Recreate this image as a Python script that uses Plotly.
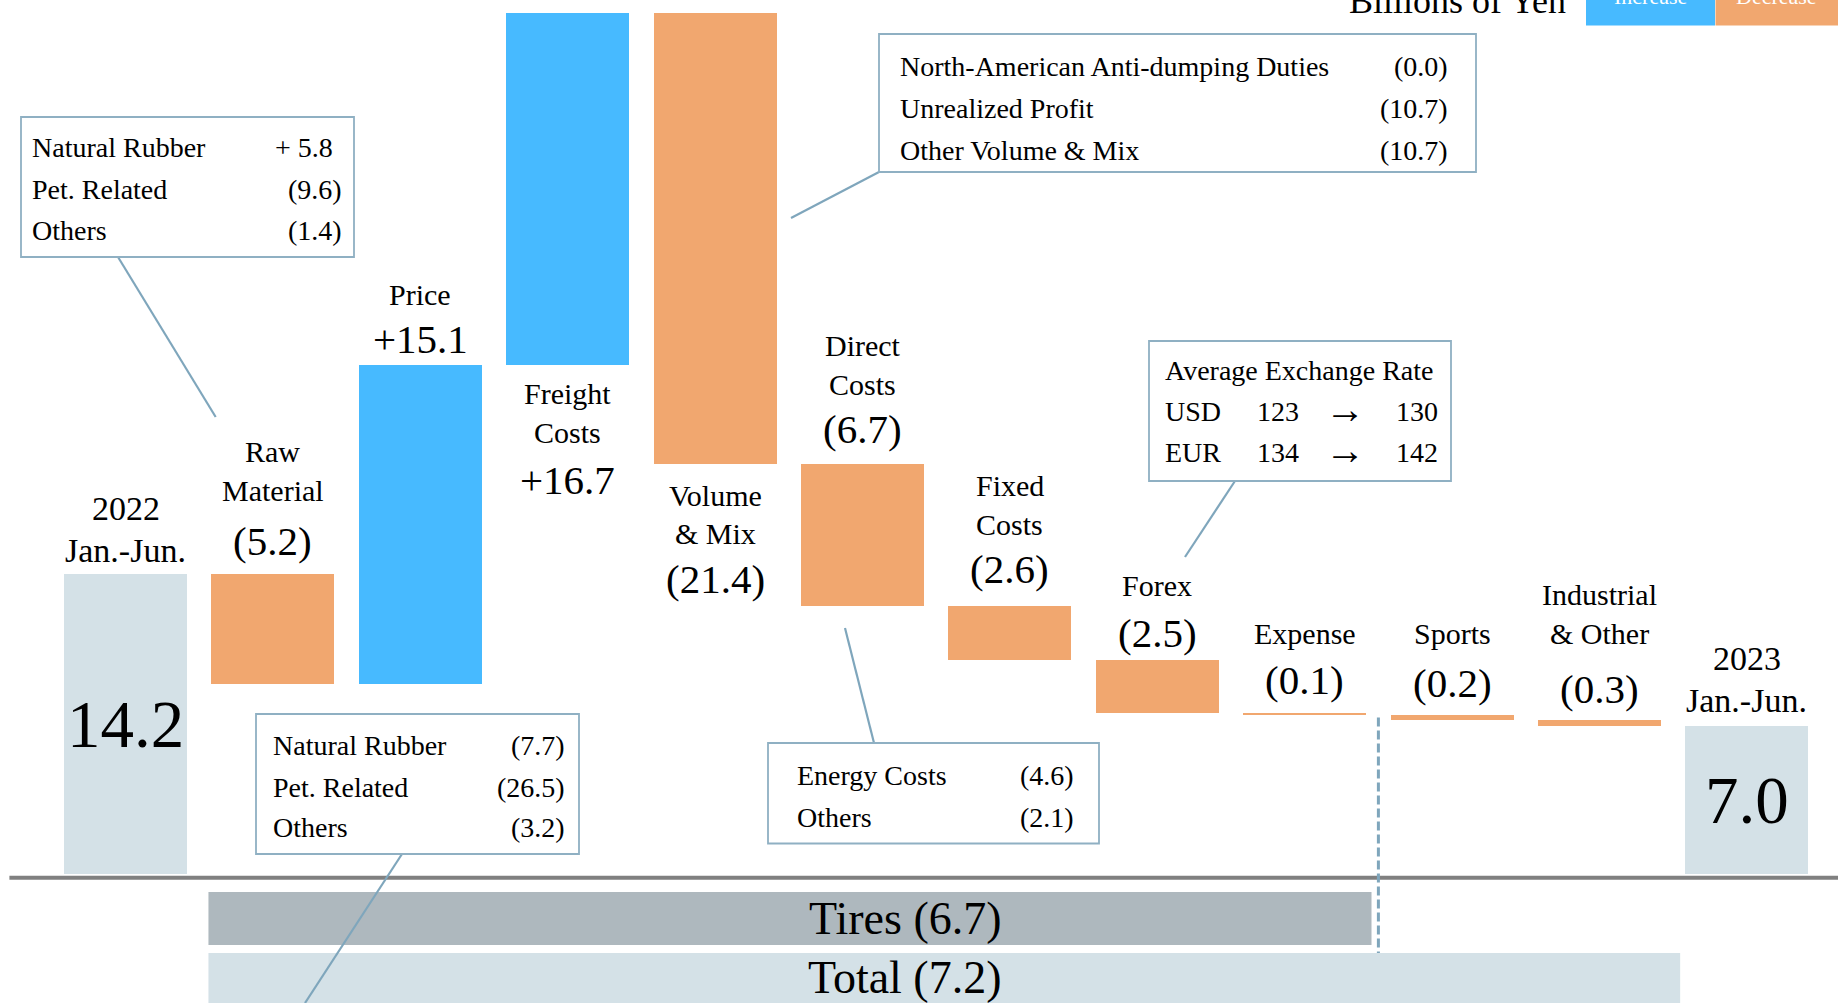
import plotly.graph_objects as go

# ---- data (billions of yen) -------------------------------------------------
categories = ["2022 Jan.-Jun.", "Raw Material", "Price", "Freight Costs",
              "Volume & Mix", "Direct Costs", "Fixed Costs", "Forex",
              "Expense", "Sports", "Industrial & Other", "2023 Jan.-Jun."]
label_lines = [["2022", "Jan.-Jun."], ["Raw", "Material"], ["Price"],
               ["Freight", "Costs"], ["Volume", "& Mix"], ["Direct", "Costs"],
               ["Fixed", "Costs"], ["Forex"], ["Expense"], ["Sports"],
               ["Industrial", "& Other"], ["2023", "Jan.-Jun."]]
start_value = 14.2
changes = [-5.2, 15.1, 16.7, -21.4, -6.7, -2.6, -2.5, -0.1, -0.2, -0.3]
end_value = 7.0

# segment brackets under the axis: (name, first change index, last change index)
segments = [("Tires", 0, 7), ("Total", 0, 9)]

raw_material_items = ["Natural Rubber", "Pet. Related", "Others"]
raw_material_values = [5.8, -9.6, -1.4]
price_items = ["Natural Rubber", "Pet. Related", "Others"]
price_values = [-7.7, -26.5, -3.2]
volume_items = ["North-American Anti-dumping Duties", "Unrealized Profit",
                "Other Volume & Mix"]
volume_values = [-0.0, -10.7, -10.7]
direct_items = ["Energy Costs", "Others"]
direct_values = [-4.6, -2.1]
fx_currencies = ["USD", "EUR"]
fx_prev = [123, 134]
fx_curr = [130, 142]

# ---- styling ----------------------------------------------------------------
W, H = 1838, 1003
SERIF = "Liberation Serif, Times New Roman, serif"
C_UP = "#47BAFF"
C_DOWN = "#F1A76F"
C_TOTAL = "#D4E1E7"
C_TIRES = "#AEB8BE"
C_CALLOUT = "#7FA6BC"
C_BOX = "#8FB0C3"

X0, DX = 125.5, 147.4          # pixel centre of first column, column pitch
Y0, DY = 873.6, 21.1           # pixel of zero, pixels per billion yen
BAR_W = 123 / DX


def fmt(v, plus_space=False):
    if v > 0:
        return ("+ " if plus_space else "+") + f"{v:.1f}"
    return f"({abs(v):.1f})"


# waterfall geometry
n = len(categories)
levels = [start_value]
for c in changes:
    levels.append(round(levels[-1] + c, 1))

tot_x, tot_y = [0, n - 1], [start_value, end_value]
up_x, up_y, up_b = [], [], []
dn_x, dn_y, dn_b = [], [], []
for i, c in enumerate(changes, start=1):
    lo = min(levels[i - 1], levels[i])
    if c > 0:
        up_x.append(i); up_y.append(abs(c)); up_b.append(lo)
    else:
        dn_x.append(i); dn_y.append(abs(c)); dn_b.append(lo)

fig = go.Figure()
bar_common = dict(width=BAR_W, hoverinfo="skip", marker_line_width=0)
fig.add_trace(go.Bar(x=tot_x, y=tot_y, base=[0, 0], marker_color=C_TOTAL, **bar_common))
fig.add_trace(go.Bar(x=up_x, y=up_y, base=up_b, marker_color=C_UP, **bar_common))
fig.add_trace(go.Bar(x=dn_x, y=dn_y, base=dn_b, marker_color=C_DOWN, **bar_common))

annotations = []
shapes = []


def px(p):
    return p / W


def py(p):
    return 1 - p / H


def text_px(x, baseline, text, size, anchor="left", color="black", family=SERIF):
    annotations.append(dict(
        x=px(x), y=py(baseline - 0.34 * size), xref="paper", yref="paper",
        text=text, showarrow=False, xanchor=anchor, yanchor="middle",
        borderpad=0, borderwidth=0,
        font=dict(size=size, family=family, color=color)))


def text_bar(i, yval, above_px, text, size):
    # above_px: distance of the text baseline above the data point (pixels)
    annotations.append(dict(
        x=i, y=yval, xref="x", yref="y", text=text, showarrow=False,
        xanchor="center", yanchor="middle", borderpad=0, borderwidth=0,
        yshift=above_px + 0.34 * size,
        font=dict(size=size, family=SERIF, color="black")))


NAME_FS, VALUE_FS, YEAR_FS, BIG_FS = 30, 41, 34, 67

# column headings and values for the two totals
for i, v in ((0, start_value), (n - 1, end_value)):
    lines = label_lines[i]
    gap = 12 if i == 0 else 14
    for k, line in enumerate(reversed(lines)):
        text_bar(i, v, gap + 42 * k, line, YEAR_FS)
    annotations.append(dict(
        x=i, y=v / 2, xref="x", yref="y", text=f"{v:.1f}", showarrow=False,
        xanchor="center", yanchor="middle", borderpad=0, borderwidth=0,
        font=dict(size=BIG_FS, family=SERIF, color="black")))

# per-column label offsets (value gap from bar edge, value-to-name gap)
value_gap = {1: 19, 2: 12, 5: 21, 6: 23, 7: 14, 8: 19, 9: 18, 10: 17}
name_gap = {1: 54, 2: 48, 5: 49, 6: 48, 7: 51, 8: 51, 9: 54, 10: 59}
below = {3: (38.5, 39, 51), 4: (41, 38, 50)}

for i in range(1, n - 1):
    c = changes[i - 1]
    top = max(levels[i - 1], levels[i])
    bot = min(levels[i - 1], levels[i])
    lines = label_lines[i]
    if i in below:
        first, step, vstep = below[i]
        for k, line in enumerate(lines):
            text_bar(i, bot, -(first + step * k), line, NAME_FS)
        text_bar(i, bot, -(first + step * (len(lines) - 1) + vstep), fmt(c), VALUE_FS)
    else:
        g = value_gap[i]
        text_bar(i, top, g, fmt(c), VALUE_FS)
        for k, line in enumerate(reversed(lines)):
            text_bar(i, top, g + name_gap[i] + 39 * k, line, NAME_FS)

# zero baseline
shapes.append(dict(type="line", xref="paper", yref="y", x0=px(9.4), x1=1,
                   y0=-0.2, y1=-0.2, line=dict(color="#808080", width=4)))

# segment brackets
seg_rows = [(-0.87, -3.38, C_TIRES), (-3.76, -6.6, C_TOTAL)]
seg_right_pad = [0.036, 0.13]
for (name, a, b), (y_top, y_bot, col), pad in zip(segments, seg_rows, seg_right_pad):
    total = round(sum(changes[a:b + 1]), 1)
    x0 = (a + 1) - BAR_W / 2 - 0.02
    x1 = (b + 1) + BAR_W / 2 + pad
    shapes.append(dict(type="rect", xref="x", yref="y", x0=x0, x1=x1,
                       y0=y_bot, y1=y_top, fillcolor=col, line_width=0, layer="below"))
    annotations.append(dict(x=5.29, y=(y_top + max(y_bot, -6.1)) / 2, xref="x", yref="y",
                            text=f"{name} {fmt(total)}", showarrow=False,
                            xanchor="center", yanchor="middle", borderpad=0, borderwidth=0,
                            font=dict(size=46, family=SERIF, color="black")))

# Tires / diversified divider
shapes.append(dict(type="line", xref="x", yref="y", x0=8.5, x1=8.5,
                   y0=levels[8] - 0.1, y1=-3.76,
                   line=dict(color=C_CALLOUT, width=3, dash="9px,4px")))


# ---- callout boxes ------------------------------------------------------------
def box(x0, y0, x1, y1):
    shapes.append(dict(type="rect", xref="paper", yref="paper",
                       x0=px(x0), x1=px(x1), y0=py(y1), y1=py(y0),
                       line=dict(color=C_BOX, width=1.8), fillcolor="white"))


def callout(xa, ya, xb, yb):
    shapes.append(dict(type="line", xref="paper", yref="paper",
                       x0=px(xa), y0=py(ya), x1=px(xb), y1=py(yb),
                       line=dict(color=C_CALLOUT, width=2.2)))


BOX_FS = 28


def table(items, values, left, right, baselines, plus_space=False):
    for name, v, b in zip(items, values, baselines):
        text_px(left, b, name, BOX_FS)
        s = fmt(v, plus_space) if v != 0 else "(0.0)"
        r = right if s.endswith(")") else right - 0.333 * BOX_FS
        text_px(r, b, s, BOX_FS, anchor="right")


callout(118, 257, 215.7, 417)
box(21, 117, 354, 257)
table(raw_material_items, raw_material_values, 32, 342, [157, 199, 240], plus_space=True)

callout(402, 854, 305, 1003)
box(256, 714, 579, 854)
table(price_items, price_values, 273, 565, [755, 797, 837.5])

callout(879, 172, 791, 218)
box(879, 34, 1476, 172)
table(volume_items, volume_values, 900, 1448, [76, 118, 160])

callout(874, 743, 845, 628)
box(768, 743, 1099, 843.5)
table(direct_items, direct_values, 797, 1074, [785, 826.7])

callout(1235, 481, 1185, 557)
box(1149, 341, 1451, 481)
text_px(1165, 380, "Average Exchange Rate", BOX_FS)
for cur, a, b, base in zip(fx_currencies, fx_prev, fx_curr, [420.7, 461.7]):
    text_px(1165, base, cur, BOX_FS)
    text_px(1256.7, base, str(a), BOX_FS)
    text_px(1345, base + 2, "\u2192", 40, anchor="center")
    text_px(1438, base, str(b), BOX_FS, anchor="right")

# ---- unit and colour key ------------------------------------------------------
text_px(1566, 13.7, "Billions of Yen", 36, anchor="right")
for (x0, x1, col, lab) in ((1586, 1715, C_UP, "Increase"), (1715.5, 1840, C_DOWN, "Decrease")):
    shapes.append(dict(type="rect", xref="paper", yref="paper", x0=px(x0), x1=px(x1),
                       y0=py(25.4), y1=py(-10), fillcolor=col, line_width=0))
    text_px((x0 + min(x1, 1838)) / 2, 3.5, lab, 22, anchor="center", color="white")

fig.update_layout(
    width=W, height=H, margin=dict(l=0, r=0, t=0, b=0, pad=0),
    paper_bgcolor="white", plot_bgcolor="white", showlegend=False,
    barmode="overlay", bargap=0,
    xaxis=dict(range=[-X0 / DX, (W - X0) / DX], visible=False, fixedrange=True),
    yaxis=dict(range=[-(H - Y0) / DY, Y0 / DY], visible=False, fixedrange=True),
    annotations=annotations, shapes=shapes,
)

fig.write_html("out.html", config={"displayModeBar": False},
               post_script="document.body.style.margin='0';")
